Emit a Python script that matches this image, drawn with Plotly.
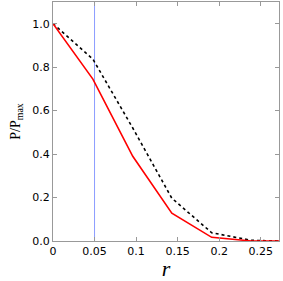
import plotly.graph_objects as go

r = [0, 0.048, 0.096, 0.143, 0.191, 0.239, 0.272]
p_red = [1.0, 0.745, 0.39, 0.128, 0.017, 0.0, 0.0]
p_black = [1.0, 0.837, 0.52, 0.197, 0.038, 0.003, 0.0]
x_ticks = [0, 0.05, 0.1, 0.15, 0.2, 0.25]
x_labels = ["0", "0.05", "0.1", "0.15", "0.2", "0.25"]
y_ticks = [0, 0.2, 0.4, 0.6, 0.8, 1.0]
y_labels = ["0.0", "0.2", "0.4", "0.6", "0.8", "1.0"]
vline_x = 0.05

fig = go.Figure()
fig.add_trace(go.Scatter(x=[vline_x, vline_x], y=[0, 1.1], mode="lines",
                         line=dict(color="#8c9cff", width=1), showlegend=False))
fig.add_trace(go.Scatter(x=r, y=p_black, mode="lines",
                         line=dict(color="black", width=1.6, dash="dot"), showlegend=False))
fig.add_trace(go.Scatter(x=r, y=p_red, mode="lines",
                         line=dict(color="red", width=1.6), showlegend=False))

axis_common = dict(showgrid=False, zeroline=False, showline=True, linecolor="#999999",
                   linewidth=1, mirror="ticks", ticks="inside", ticklen=4,
                   tickcolor="#999999", tickfont=dict(family="DejaVu Sans", size=11, color="black"))
fig.update_xaxes(range=[0, 0.272], tickvals=x_ticks, ticktext=x_labels,
                 title=dict(text="<i>r</i>", font=dict(family="Liberation Serif", size=22, color="black"),
                            standoff=2), **axis_common)
fig.update_yaxes(range=[0, 1.1], tickvals=y_ticks, ticktext=y_labels,
                 title=dict(text="P/P<sub>max</sub>", font=dict(family="Liberation Serif", size=14, color="black"),
                            standoff=8), **axis_common)
fig.update_layout(width=283, height=281, margin=dict(l=53, r=4, t=2, b=40),
                  plot_bgcolor="white", paper_bgcolor="white")
fig.write_html("out.html", config={"displayModeBar": False},
               post_script="document.body.style.margin='0';document.body.style.overflow='hidden';")
